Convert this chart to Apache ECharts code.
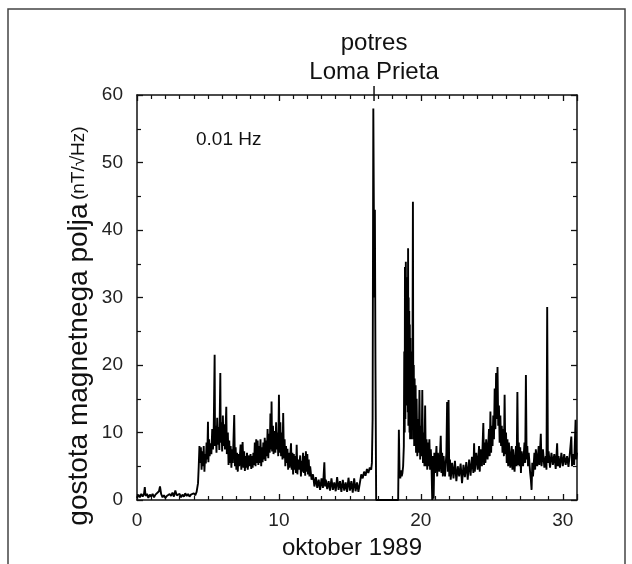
<!DOCTYPE html>
<html><head><meta charset="utf-8">
<script src="https://cdn.jsdelivr.net/npm/echarts@6/dist/echarts.min.js"></script>
<style>html,body{margin:0;padding:0;background:#fff}#c{width:632px;height:564px}</style>
</head><body><div id="c"></div>
<script>
const titleLines = ['potres', 'Loma Prieta'];
const xAxisTitle = 'oktober 1989';
const yAxisTitle = 'gostota magnetnega polja';
const yAxisUnit = '(nT/√Hz)';
const bandLabel = '0.01 Hz';
const earthquakeDay = 16.7;
const xTicks = [0, 10, 20, 30];
const yTicks = [0, 10, 20, 30, 40, 50, 60];

// [day, field density]
const quietStart = [[0,0.3],[0.1,0.8],[0.2,0.4],[0.3,0.9],[0.4,0.5],[0.5,1.0],[0.55,1.9],[0.6,0.6],[0.7,0.9],[0.8,0.3],[0.9,0.8],[1.0,0.5],[1.1,0.9],[1.2,0.4],[1.3,0.8],[1.4,0.6],[1.55,1.3],[1.62,2.0],[1.7,0.9],[1.8,0.4],[1.9,0.7],[2.0,0.3],[2.1,0.6],[2.2,0.4],[2.3,0.9],[2.4,0.6],[2.5,1.1],[2.6,0.5],[2.7,1.4],[2.8,0.7],[2.9,0.5],[3.0,0.9],[3.1,0.4],[3.2,0.8],[3.3,0.5],[3.4,1.0],[3.5,0.6],[3.6,0.9],[3.7,0.5],[3.8,0.8],[3.9,0.6],[4.0,1.0],[4.1,0.7],[4.2,1.2],[4.3,2.5],[4.35,5.0]];
const firstActive = [[4.4,8.0],[4.45,5.5],[4.5,7.8],[4.55,4.5],[4.6,7.2],[4.65,5.0],[4.7,8.0],[4.75,4.2],[4.8,6.8],[4.85,5.4],[4.9,8.5],[4.95,6.0],[5.0,11.6],[5.03,5.6],[5.08,9.0],[5.12,6.5],[5.18,8.4],[5.24,6.8],[5.3,10.5],[5.35,7.5],[5.4,9.5],[5.47,21.5],[5.5,8.0],[5.55,11.0],[5.6,7.0],[5.65,12.2],[5.7,8.2],[5.75,10.8],[5.8,7.4],[5.87,18.8],[5.9,8.5],[5.95,11.5],[6.0,7.2],[6.05,12.5],[6.1,8.0],[6.15,11.2],[6.2,7.5],[6.29,13.8],[6.33,6.8],[6.4,10.0],[6.45,5.2],[6.5,8.8],[6.55,5.5],[6.6,8.0],[6.65,4.8],[6.7,7.5],[6.75,5.5],[6.85,12.6],[6.9,5.0],[6.95,7.8],[7.0,4.5],[7.05,7.0],[7.1,4.2],[7.15,6.8],[7.2,5.0],[7.3,8.2],[7.35,4.5],[7.44,8.6],[7.5,4.8],[7.55,7.2],[7.6,4.3],[7.65,6.5],[7.7,4.8],[7.75,7.0],[7.8,4.5],[7.9,6.6],[7.95,5.0],[8.0,6.8],[8.05,4.6],[8.1,6.5],[8.15,4.8],[8.2,7.0],[8.25,5.2]];
const secondActive = [[8.3,8.5],[8.35,5.0],[8.4,9.0],[8.45,5.5],[8.5,8.8],[8.55,5.2],[8.6,8.0],[8.65,5.5],[8.7,9.0],[8.75,5.0],[8.8,7.8],[8.85,5.6],[8.9,8.5],[8.95,6.0],[9.0,9.2],[9.05,5.8],[9.1,8.8],[9.15,6.5],[9.2,10.5],[9.25,6.2],[9.3,9.8],[9.35,7.0],[9.4,12.8],[9.45,7.5],[9.48,14.6],[9.52,7.2],[9.58,11.0],[9.62,6.8],[9.7,10.2],[9.75,7.0],[9.8,11.5],[9.85,7.5],[9.9,10.0],[9.95,6.5],[10.0,15.6],[10.05,7.0],[10.1,11.5],[10.15,6.5],[10.2,10.0],[10.25,6.0],[10.3,12.9],[10.35,6.2],[10.4,9.0],[10.45,5.0],[10.5,8.0],[10.55,5.5],[10.6,7.6],[10.65,4.5],[10.7,7.0],[10.75,4.8],[10.85,8.4],[10.9,4.5],[10.95,7.0],[11.0,3.8],[11.05,6.8],[11.1,4.5],[11.15,6.5],[11.2,4.0],[11.25,8.2],[11.3,3.8],[11.35,6.0],[11.4,4.5],[11.5,6.6],[11.55,3.5],[11.6,5.8],[11.65,4.2],[11.7,7.0],[11.75,4.0],[11.8,6.5],[11.85,3.6],[11.9,7.2],[11.95,4.2],[12.0,6.8],[12.05,3.8],[12.1,6.0],[12.15,3.5],[12.2,5.0],[12.3,3.0],[12.4,3.8]];
const preQuake = [[12.5,2.0],[12.6,3.4],[12.7,1.8],[12.8,3.0],[12.9,1.5],[13.0,3.2],[13.1,1.8],[13.2,5.6],[13.25,2.0],[13.3,3.0],[13.4,1.6],[13.5,2.8],[13.6,1.4],[13.7,3.2],[13.8,1.5],[13.9,2.6],[14.0,1.3],[14.1,3.4],[14.2,1.5],[14.3,2.8],[14.4,1.2],[14.5,3.0],[14.6,1.4],[14.7,2.6],[14.8,1.2],[14.9,3.3],[15.0,1.4],[15.1,2.8],[15.2,1.1],[15.3,3.2],[15.4,1.3],[15.5,2.6],[15.6,1.2],[15.7,2.5],[15.8,3.8],[15.9,3.2],[16.0,4.2],[16.1,3.6],[16.2,4.6],[16.3,4.0],[16.4,4.8],[16.5,4.5],[16.55,5.5],[16.6,12],[16.65,58],[16.72,30],[16.76,43],[16.8,20],[16.85,0],[17.5,0],[18.4,0]];
const postQuake = [[18.45,10.4],[18.5,4.0],[18.55,3.2],[18.6,4.4],[18.65,3.5],[18.7,4.0],[18.75,5.0],[18.8,8],[18.83,22],[18.86,10],[18.88,34.5],[18.91,12],[18.94,35.3],[18.96,18],[18.98,30],[19.0,14],[19.02,33],[19.04,16],[19.06,28],[19.08,13],[19.1,37.3],[19.12,11],[19.14,30],[19.16,12],[19.18,28],[19.2,10],[19.22,26],[19.24,9],[19.26,24],[19.28,10],[19.3,22],[19.33,9],[19.36,20],[19.4,12],[19.44,44.2],[19.47,9],[19.5,20],[19.53,8],[19.56,18],[19.6,8],[19.63,17],[19.66,7],[19.7,15],[19.75,6.5],[19.8,12],[19.85,7],[19.9,16.3],[19.95,6],[20.0,11],[20.05,6.5],[20.1,16.3],[20.15,5.5],[20.2,10],[20.25,5],[20.3,14],[20.35,5],[20.4,9],[20.45,4.5],[20.5,8.5],[20.55,5.0],[20.6,9.0],[20.65,4.5],[20.7,7.5],[20.75,5.0],[20.8,0],[20.85,6.5],[20.9,0.2],[20.95,7],[21.0,4],[21.1,8],[21.15,3.5],[21.2,7],[21.3,4.2],[21.4,9.5],[21.45,4.0],[21.5,7],[21.55,3.5],[21.6,6.5],[21.7,3.5],[21.8,7],[21.85,14.5],[21.9,4.2],[21.95,14.8],[22.0,3.5],[22.05,6],[22.1,3.0]];
const lateActive = [[22.2,5.5],[22.3,3.2],[22.4,5.8],[22.5,2.8],[22.6,5.0],[22.7,3.5],[22.8,5.4],[22.9,2.5],[23.0,5.2],[23.1,3.4],[23.2,5.6],[23.3,3.0],[23.4,6.0],[23.5,3.6],[23.6,6.4],[23.7,4.0],[23.75,8.4],[23.8,4.2],[23.9,7.0],[24.0,4.5],[24.1,8.0],[24.15,4.2],[24.2,7.5],[24.3,5.0],[24.4,11.4],[24.45,5.2],[24.5,8.5],[24.55,5.5],[24.6,9.0],[24.7,6.0],[24.8,10.5],[24.85,6.5],[24.9,13.1],[24.95,7.0],[25.0,11.0],[25.05,8.0],[25.1,12.5],[25.15,9.0],[25.2,16.5],[25.25,10.5],[25.3,18.8],[25.35,12],[25.4,19.7],[25.45,11],[25.5,14],[25.55,8.5],[25.6,12.5],[25.65,8.0],[25.7,11],[25.75,7.0],[25.8,10.5],[25.85,6.5],[25.9,15.6],[25.95,6.8],[26.0,10],[26.05,5.5],[26.1,9.0],[26.15,5.0],[26.2,8.5],[26.3,4.8],[26.4,8.0],[26.45,4.5],[26.5,7.5],[26.6,4.2],[26.7,8.0],[26.75,5.0],[26.8,16.0],[26.85,5.2],[26.9,8.5],[26.95,5.0],[27.0,7.8],[27.05,4.0],[27.1,7.2],[27.2,5.0],[27.3,8.5],[27.35,5.5],[27.4,18.5],[27.45,6.0],[27.5,8.0],[27.55,5.0],[27.6,7.0],[27.7,4.0],[27.75,3.0],[27.8,1.5],[27.85,5.5],[27.9,3.5],[28.0,7.0],[28.05,4.5],[28.1,7.5],[28.2,5.0],[28.3,8.0],[28.35,5.2],[28.45,9.8],[28.5,5.0],[28.6,7.5],[28.7,4.8],[28.8,6.5],[28.85,4.5],[28.9,28.6],[28.95,5.5],[29.0,7.2],[29.1,4.8],[29.2,7.0],[29.3,5.2],[29.4,6.8],[29.5,4.6],[29.6,8.4],[29.65,5.0],[29.7,6.5],[29.8,4.8],[29.9,7.0],[30.0,5.0],[30.1,6.8],[30.2,5.2],[30.3,6.5],[30.4,4.9],[30.5,7.0],[30.6,9.4],[30.65,5.0],[30.7,6.8],[30.8,5.2],[30.9,11.9],[30.95,6.0],[31,7]];

const readings = [].concat(quietStart, firstActive, secondActive, preQuake, postQuake, lateActive);

const FONT = '"Liberation Sans", Arial, sans-serif';
const chart = echarts.init(document.getElementById('c'), null, {renderer: 'canvas'});
const axisCommon = {
  type: 'value', min: 0,
  axisLine: {show: true, onZero: false, lineStyle: {color: '#111', width: 1.5}},
  axisTick: {show: true, inside: true, length: 6, lineStyle: {color: '#111', width: 1.3}},
  minorTick: {show: true, length: 4, lineStyle: {color: '#111', width: 1.2}},
  splitLine: {show: false}, minorSplitLine: {show: false}
};
chart.setOption({
  animation: false,
  backgroundColor: '#fff',
  grid: {left: 137, right: 55, top: 95, bottom: 64},
  xAxis: [
    Object.assign({}, axisCommon, {position: 'bottom', max: 31, interval: 10,
      minorTick: Object.assign({}, axisCommon.minorTick, {splitNumber: 10}),
      axisLabel: {show: true, margin: 11, color: '#222', fontSize: 19, fontFamily: FONT,
        formatter: v => xTicks.includes(v) ? String(v) : ''}}),
    Object.assign({}, axisCommon, {position: 'top', max: 31, interval: 10,
      minorTick: Object.assign({}, axisCommon.minorTick, {splitNumber: 10}),
      axisLabel: {show: false}})
  ],
  yAxis: [
    Object.assign({}, axisCommon, {position: 'left', max: 60, interval: 10,
      minorTick: Object.assign({}, axisCommon.minorTick, {splitNumber: 2}),
      axisLabel: {show: true, margin: 14, color: '#222', fontSize: 19, fontFamily: FONT,
        formatter: v => yTicks.includes(v) ? String(v) : ''}}),
    Object.assign({}, axisCommon, {position: 'right', max: 60, interval: 10,
      minorTick: Object.assign({}, axisCommon.minorTick, {splitNumber: 2}),
      axisLabel: {show: false}})
  ],
  series: [{
    type: 'line', data: readings, showSymbol: false, symbol: 'none', sampling: 'none',
    lineStyle: {color: '#000', width: 1.9}, xAxisIndex: 0, yAxisIndex: 0
  }]
});

const qx = chart.convertToPixel({xAxisIndex: 0}, earthquakeDay);
const topY = chart.convertToPixel({yAxisIndex: 0}, 60);
const midX = chart.convertToPixel({xAxisIndex: 0}, 15.5);
chart.setOption({
  graphic: [
    {type: 'polyline', shape: {points: [[8, 580], [8, 9], [625, 9], [625, 580]]},
      style: {stroke: '#444', lineWidth: 1.5, fill: null}, silent: true},
    {type: 'line', shape: {x1: qx, y1: topY - 9, x2: qx, y2: topY + 6},
      style: {stroke: '#111', lineWidth: 1.5}, silent: true},
    {type: 'text', x: qx, y: 43, style: {text: titleLines[0], font: '24px ' + FONT,
      fill: '#111', align: 'center', verticalAlign: 'middle'}},
    {type: 'text', x: qx, y: 72, style: {text: titleLines[1], font: '24px ' + FONT,
      fill: '#111', align: 'center', verticalAlign: 'middle'}},
    {type: 'text', x: midX - 5, y: 548, style: {text: xAxisTitle, font: '24px ' + FONT,
      fill: '#111', align: 'center', verticalAlign: 'middle'}},
    {type: 'text', x: 196, y: 140, style: {text: bandLabel, font: '19px ' + FONT,
      fill: '#111', align: 'left', verticalAlign: 'middle'}},
    {type: 'text', x: 79, y: 326, rotation: Math.PI / 2,
      style: {text: '{a|' + yAxisTitle + '} {b|' + yAxisUnit + '}', align: 'center', verticalAlign: 'middle',
        fill: '#111',
        rich: {a: {font: '28px ' + FONT, fill: '#111'}, b: {font: '19px ' + FONT, fill: '#111'}}}}
  ]
});
</script></body></html>
